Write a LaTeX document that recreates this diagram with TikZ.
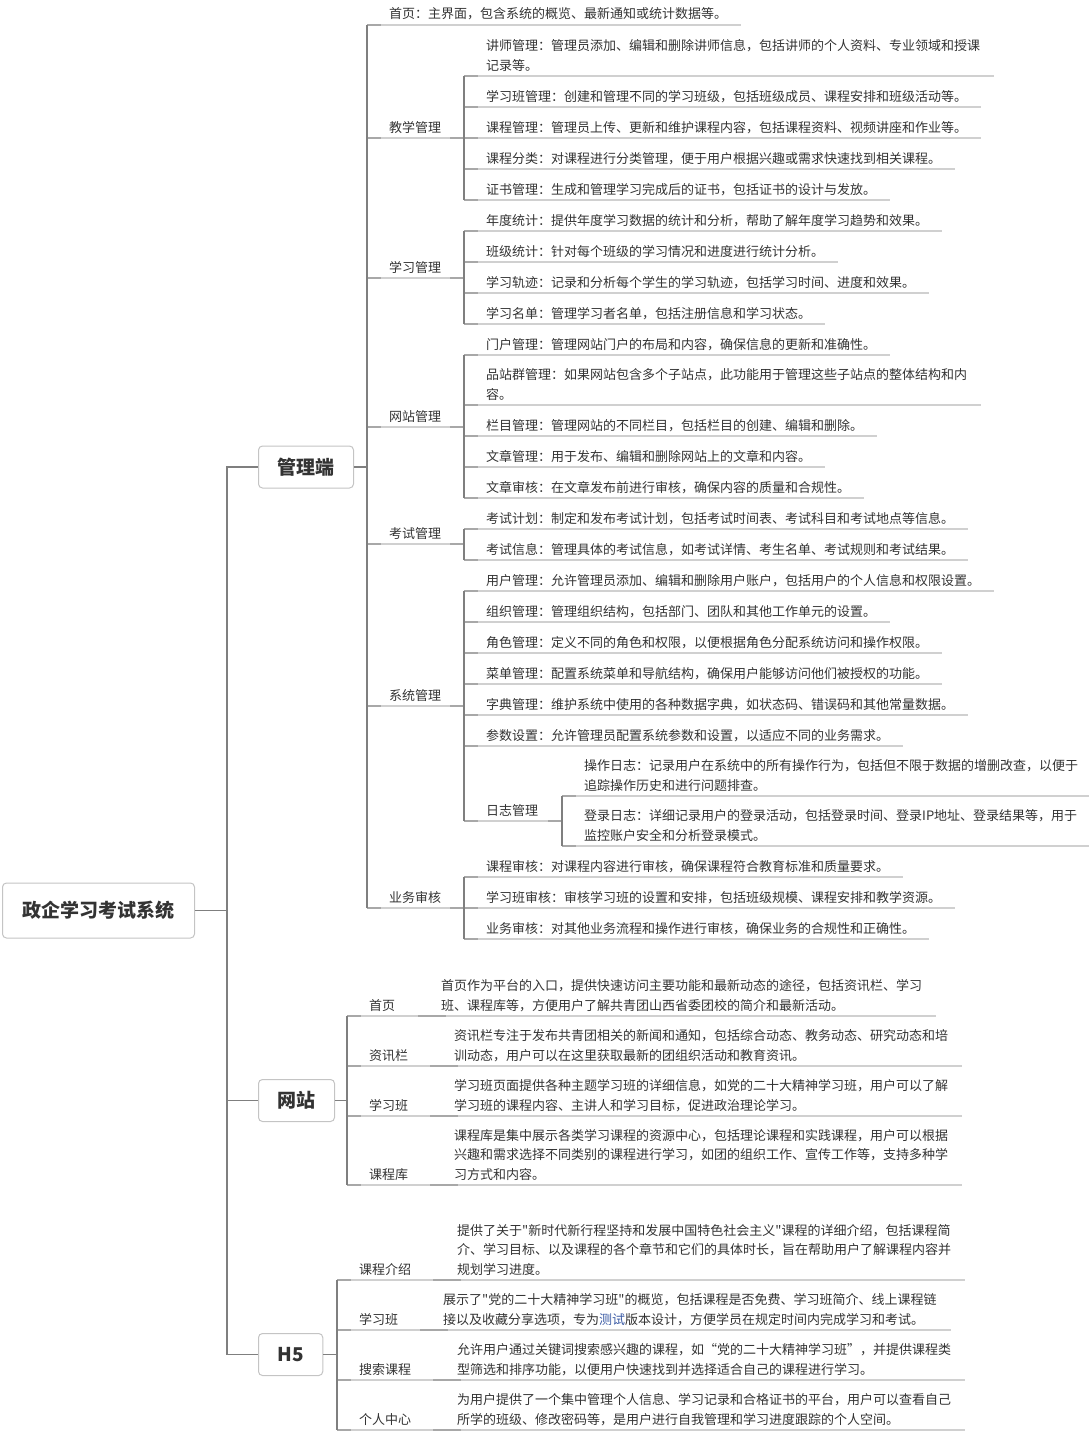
\documentclass[tikz,border=0pt]{standalone}
\usepackage{fontspec}
\newfontfamily\cjk{Noto Sans CJK SC}
\usetikzlibrary{calc,positioning}
\definecolor{txtcol}{HTML}{333333}
\definecolor{linecol}{HTML}{7F7F7F}
\definecolor{stubcol}{HTML}{A8A8A8}
\definecolor{ulcol}{HTML}{D0D0D0}
\definecolor{boxcol}{HTML}{C4C4C4}
\definecolor{testblue}{HTML}{3B5BA5}
\tikzset{
  txt/.style={font=\cjk\fontsize{13}{19.5}\selectfont, text=txtcol, inner sep=0pt, anchor=base west, align=left},
  hub/.style={draw=boxcol, line width=1pt, rounded corners=4pt, fill=white, text=txtcol,
    font=\cjk\bfseries\fontsize{19}{23}\selectfont, inner xsep=19pt, minimum height=42pt, anchor=west},
  conn/.style={draw=linecol, line width=1.5pt},
  stub/.style={draw=stubcol, line width=2pt},
  uline/.style={draw=ulcol, line width=2pt},
}
% leaf: name, vertical x, text x, underline y, text (base = last line)
\newcommand{\mmleaf}[5]{%
  \node[txt] (#1) at (#3,#4-6) {#5};
  \coordinate (#1-u) at (#2,#4);
  \draw[uline] (#1-u) -- ($(#1.east |- #1-u)+(14,0)$);
  \draw[stub] (#1-u) -- ++(14,0);
}
% label with children: name, vertical x, text x, underline y, child x, text
\newcommand{\mmlab}[6]{%
  \node[txt] (#1) at (#3,#4-6) {#6};
  \coordinate (#1-u) at (#2,#4);
  \coordinate (#1-c) at (#5,#4);
  \draw[uline] (#1-u) -- (#1-c);
  \draw[stub] (#1-u) -- ++(14,0);
  \draw[stub] (#1-c) -- ++(-14,0);
}

\begin{document}
\begin{tikzpicture}[x=1pt,y=-1pt]
\useasboundingbox (0,0) rectangle (1089,1432);
\node[hub, minimum height=55pt, inner xsep=20pt] (root) at (2,910.5) {政企学习考试系统};
\node[hub] (b1) at (258,467) {管理端};
\node[hub] (b2) at (258,1100.5) {网站};
\node[hub] (b3) at (258,1354.5) {H5};
%
\draw[conn] (root.east) -- ++(32,0) coordinate (v0);
\draw[conn] (v0) |- (b1.west);
\draw[conn] (v0) |- (b2.west);
\draw[conn] (v0) |- (b3.west);
%
% 管理端
\mmleaf{sy}{367}{389}{25}{首页：主界面，包含系统的概览、最新通知或统计数据等。}
\mmlab{jx}{367}{389}{138}{464}{教学管理}
\mmlab{xg}{367}{389}{278}{464}{学习管理}
\mmlab{wz}{367}{389}{427}{464}{网站管理}
\mmlab{ks}{367}{389}{544}{464}{考试管理}
\mmlab{xt}{367}{389}{706}{464}{系统管理}
\mmlab{yw}{367}{389}{908}{464}{业务审核}
%
\mmleaf{jx1}{464}{486}{76}{讲师管理：管理员添加、编辑和删除讲师信息，包括讲师的个人资料、专业领域和授课\\记录等。}
\mmleaf{jx2}{464}{486}{107}{学习班管理：创建和管理不同的学习班级，包括班级成员、课程安排和班级活动等。}
\mmleaf{jx3}{464}{486}{138}{课程管理：管理员上传、更新和维护课程内容，包括课程资料、视频讲座和作业等。}
\mmleaf{jx4}{464}{486}{169}{课程分类：对课程进行分类管理，便于用户根据兴趣或需求快速找到相关课程。}
\mmleaf{jx5}{464}{486}{200}{证书管理：生成和管理学习完成后的证书，包括证书的设计与发放。}
%
\mmleaf{xg1}{464}{486}{231}{年度统计：提供年度学习数据的统计和分析，帮助了解年度学习趋势和效果。}
\mmleaf{xg2}{464}{486}{262}{班级统计：针对每个班级的学习情况和进度进行统计分析。}
\mmleaf{xg3}{464}{486}{293}{学习轨迹：记录和分析每个学生的学习轨迹，包括学习时间、进度和效果。}
\mmleaf{xg4}{464}{486}{324}{学习名单：管理学习者名单，包括注册信息和学习状态。}
%
\mmleaf{wz1}{464}{486}{355}{门户管理：管理网站门户的布局和内容，确保信息的更新和准确性。}
\mmleaf{wz2}{464}{486}{405}{品站群管理：如果网站包含多个子站点，此功能用于管理这些子站点的整体结构和内\\容。}
\mmleaf{wz3}{464}{486}{436}{栏目管理：管理网站的不同栏目，包括栏目的创建、编辑和删除。}
\mmleaf{wz4}{464}{486}{467}{文章管理：用于发布、编辑和删除网站上的文章和内容。}
\mmleaf{wz5}{464}{486}{498}{文章审核：在文章发布前进行审核，确保内容的质量和合规性。}
%
\mmleaf{ks1}{464}{486}{529}{考试计划：制定和发布考试计划，包括考试时间表、考试科目和考试地点等信息。}
\mmleaf{ks2}{464}{486}{560}{考试信息：管理具体的考试信息，如考试详情、考生名单、考试规则和考试结果。}
%
\mmleaf{xt1}{464}{486}{591}{用户管理：允许管理员添加、编辑和删除用户账户，包括用户的个人信息和权限设置。}
\mmleaf{xt2}{464}{486}{622}{组织管理：管理组织结构，包括部门、团队和其他工作单元的设置。}
\mmleaf{xt3}{464}{486}{653}{角色管理：定义不同的角色和权限，以便根据角色分配系统访问和操作权限。}
\mmleaf{xt4}{464}{486}{684}{菜单管理：配置系统菜单和导航结构，确保用户能够访问他们被授权的功能。}
\mmleaf{xt5}{464}{486}{715}{字典管理：维护系统中使用的各种数据字典，如状态码、错误码和其他常量数据。}
\mmleaf{xt6}{464}{486}{746}{参数设置：允许管理员配置系统参数和设置，以适应不同的业务需求。}
\mmlab{rz}{464}{486}{821}{562}{日志管理}
\mmleaf{rz1}{562}{584}{796}{操作日志：记录用户在系统中的所有操作行为，包括但不限于数据的增删改查，以便于\\追踪操作历史和进行问题排查。}
\mmleaf{rz2}{562}{584}{846}{登录日志：详细记录用户的登录活动，包括登录时间、登录IP地址、登录结果等，用于\\监控账户安全和分析登录模式。}
%
\mmleaf{yw1}{464}{486}{877}{课程审核：对课程内容进行审核，确保课程符合教育标准和质量要求。}
\mmleaf{yw2}{464}{486}{908}{学习班审核：审核学习班的设置和安排，包括班级规模、课程安排和教学资源。}
\mmleaf{yw3}{464}{486}{939}{业务审核：对其他业务流程和操作进行审核，确保业务的合规性和正确性。}
%
\draw[conn] (b1.east) -- (b1.east -| sy-u);
\draw[conn] (sy-u) -- (yw-u);
\draw[conn] (jx1-u) -- (jx5-u);
\draw[conn] (xg1-u) -- (xg4-u);
\draw[conn] (wz1-u) -- (wz5-u);
\draw[conn] (ks1-u) -- (ks2-u);
\draw[conn] (xt1-u) -- (rz-u);
\draw[conn] (rz1-u) -- (rz2-u);
\draw[conn] (yw1-u) -- (yw3-u);
%
% 网站
\mmlab{w1}{347}{369}{1016}{432}{首页}
\mmleaf{w1a}{432}{441}{1016}{首页作为平台的入口，提供快速访问主要功能和最新动态的途径，包括资讯栏、学习\\班、课程库等，方便用户了解共青团山西省委团校的简介和最新活动。}
\mmlab{w2}{347}{369}{1066}{444}{资讯栏}
\mmleaf{w2a}{444}{454}{1066}{资讯栏专注于发布共青团相关的新闻和通知，包括综合动态、教务动态、研究动态和培\\训动态，用户可以在这里获取最新的团组织活动和教育资讯。}
\mmlab{w3}{347}{369}{1116}{444}{学习班}
\mmleaf{w3a}{444}{454}{1116}{学习班页面提供各种主题学习班的详细信息，如党的二十大精神学习班，用户可以了解\\学习班的课程内容、主讲人和学习目标，促进政治理论学习。}
\mmlab{w4}{347}{369}{1185}{444}{课程库}
\mmleaf{w4a}{444}{454}{1185}{课程库是集中展示各类学习课程的资源中心，包括理论课程和实践课程，用户可以根据\\兴趣和需求选择不同类别的课程进行学习，如团的组织工作、宣传工作等，支持多种学\\习方式和内容。}
\draw[conn] (b2.east) -- (b2.east -| w1-u);
\draw[conn] (w1-u) -- (w4-u);
%
% H5
\mmlab{h1}{337}{359}{1280}{447}{课程介绍}
\mmleaf{h1a}{447}{457}{1280}{提供了关于"新时代新行程坚持和发展中国特色社会主义"课程的详细介绍，包括课程简\\介、学习目标、以及课程的各个章节和它们的具体时长，旨在帮助用户了解课程内容并\\规划学习进度。}
\mmlab{h2}{337}{359}{1330}{434}{学习班}
\mmleaf{h2a}{434}{443}{1330}{展示了"党的二十大精神学习班"的概览，包括课程是否免费、学习班简介、线上课程链\\接以及收藏分享选项，专为\textcolor{testblue}{测试}版本设计，方便学员在规定时间内完成学习和考试。}
\mmlab{h3}{337}{359}{1380}{447}{搜索课程}
\mmleaf{h3a}{447}{457}{1380}{允许用户通过关键词搜索感兴趣的课程，如“党的二十大精神学习班”，并提供课程类\\型筛选和排序功能，以便用户快速找到并选择适合自己的课程进行学习。}
\mmlab{h4}{337}{359}{1430}{447}{个人中心}
\mmleaf{h4a}{447}{457}{1430}{为用户提供了一个集中管理个人信息、学习记录和合格证书的平台，用户可以查看自己\\所学的班级、修改密码等，是用户进行自我管理和学习进度跟踪的个人空间。}
\draw[conn] (b3.east) -- (b3.east -| h1-u);
\draw[conn] (h1-u) -- (h4-u);
\end{tikzpicture}
\end{document}
